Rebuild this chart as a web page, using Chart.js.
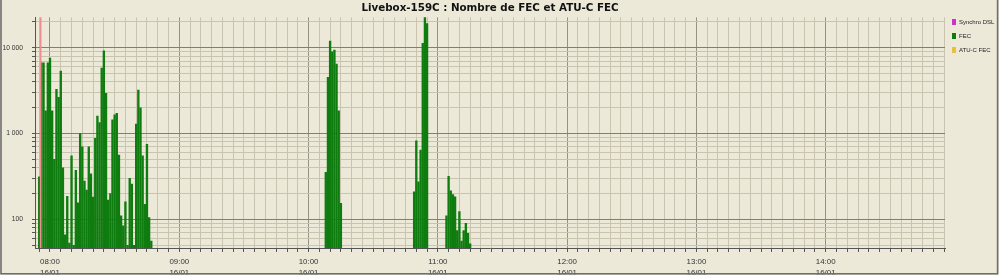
<!DOCTYPE html>
<html>
<head>
<meta charset="utf-8">
<title>Livebox-159C : Nombre de FEC et ATU-C FEC</title>
<script src="https://cdn.jsdelivr.net/npm/chart.js@4.4.1/dist/chart.umd.min.js"></script>
<style>
    html, body { margin: 0; padding: 0; background: #ffffff; }
    #wrap { width: 999px; height: 280px; }
</style>
</head>
<body>
<div id="wrap"><canvas id="fecChart" width="999" height="280"></canvas></div>
<script>
// --- Données ---
const chartTitle = 'Livebox-159C : Nombre de FEC et ATU-C FEC';
const dayLabel = '16/01';
const hourLabels = ['08:00', '09:00', '10:00', '11:00', '12:00', '13:00', '14:00'];

// Synchro DSL (trait vertical)
const syncTimes = ['07:55:40'];

// FEC par minute, une rafale = minutes consécutives à partir de l'heure de départ
const burst1Start = '07:55';
const burst1 = [314, 6680, 6680, 1845, 6680, 7570, 1845, 500, 3270, 2640, 5350, 400, 66, 186, 53,
    550, 50, 372, 156, 1000, 700, 280, 220, 700, 340, 182, 880, 1600, 1340, 5800, 9200, 2940,
    168, 200, 1450, 1650, 1720, 560, 110, 84, 160, 50, 300, 258, 50, 1290, 3220, 2000, 550, 150,
    750, 105, 56];
const burst2Start = '10:08';
const burst2 = [353, 4520, 12000, 8980, 9400, 6460, 1845, 154];
const burst3Start = '10:49';
const burst3 = [210, 824, 274, 642, 11250, 22600, 19200];
const burst4Start = '11:04';
const burst4 = [110, 317, 215, 194, 183, 74, 123, 56, 74, 90, 69, 52];

// ATU-C FEC : aucune valeur visible
const atucFec = [];

// Axe Y (logarithmique)
const yMin = 46.4;
const yMax = 22630;
const yLabelValues = [100, 1000, 10000];
const yGridValues = [50, 60, 70, 80, 90, 100, 200, 300, 400, 500, 600, 700, 800, 900,
    1000, 2000, 3000, 4000, 5000, 6000, 7000, 8000, 9000, 10000, 20000];

// Axe X (minutes depuis minuit)
const xMin = 473.04;
const xMax = 895.37;

// --- Fonctions ---
function toMinutes(str) {
    const parts = str.split(':').map(Number);
    return parts[0] * 60 + parts[1] + (parts[2] || 0) / 60;
}

function burstPoints(start, values) {
    const t0 = toMinutes(start);
    return values.map((v, i) => ({ x: t0 + i, y: v }));
}

function formatThousands(v) {
    return String(v).replace(/\B(?=(\d{3})+(?!\d))/g, ' ');
}

const fecPoints = [].concat(
    burstPoints(burst1Start, burst1),
    burstPoints(burst2Start, burst2),
    burstPoints(burst3Start, burst3),
    burstPoints(burst4Start, burst4)
);
const syncPoints = syncTimes.map(t => ({ x: toMinutes(t), y: yMax }));

const hourMinutes = hourLabels.map(toMinutes);
const xGridValues = [];
for (let m = 475; m <= xMax; m += 5) xGridValues.push(m);

const BG = '#ece9d8';

// fond, cadre et légende
const framePlugin = {
    id: 'frame',
    beforeDraw(chart) {
        const c = chart.ctx;
        c.save();
        c.fillStyle = BG;
        c.fillRect(0, 0, chart.width, chart.height);
        c.restore();
    },
    afterDraw(chart) {
        const c = chart.ctx;
        c.save();
        // légende
        const rows = [22, 36, 50];
        chart.data.datasets.forEach((ds, i) => {
            c.fillStyle = ds.legendColor || ds.backgroundColor;
            c.fillRect(952, rows[i] - 3, 4, 6);
            c.fillStyle = '#222';
            c.font = '6px "Liberation Sans"';
            c.textBaseline = 'middle';
            c.fillText(ds.label, 959, rows[i]);
        });
        // bas blanc + cadre
        c.fillStyle = '#ffffff';
        c.fillRect(0, 274.5, chart.width, chart.height - 274.5);
        c.strokeStyle = '#6e6e6e';
        c.lineWidth = 1.6;
        c.strokeRect(1, -2, 996.6, 275.8);
        c.restore();
    }
};

const ctx = document.getElementById('fecChart').getContext('2d');

new Chart(ctx, {
    type: 'bar',
    data: {
        datasets: [
            {
                label: 'Synchro DSL',
                data: syncPoints,
                backgroundColor: '#ee8e8e',
                legendColor: '#cc33cc',
                barThickness: 1,
                grouped: false
            },
            {
                label: 'FEC',
                data: fecPoints,
                backgroundColor: '#0f7c0f',
                barThickness: 1.7,
                grouped: false
            },
            {
                label: 'ATU-C FEC',
                data: atucFec,
                backgroundColor: '#e8c040',
                barThickness: 1.7,
                grouped: false
            }
        ]
    },
    options: {
        responsive: false,
        animation: false,
        events: [],
        layout: { padding: { top: 0, right: 54, bottom: 0, left: 0 } },
        plugins: {
            legend: { display: false },
            tooltip: { enabled: false },
            title: {
                display: true,
                text: chartTitle,
                fullSize: false,
                color: '#111',
                font: { family: 'DejaVu Sans', weight: 'bold', size: 10.3, lineHeight: 1.2 },
                padding: { top: 2.3, bottom: 2.7 }
            }
        },
        scales: {
            x: {
                type: 'linear',
                min: xMin,
                max: xMax,
                offset: false,
                afterFit: scale => { scale.height = 32; },
                afterBuildTicks: scale => { scale.ticks = xGridValues.map(v => ({ value: v })); },
                ticks: {
                    autoSkip: false,
                    maxRotation: 0,
                    minRotation: 0,
                    padding: 5,
                    color: '#333',
                    font: { family: 'Liberation Sans', size: 7.9, lineHeight: 1.3 },
                    callback: value => {
                        const i = hourMinutes.indexOf(value);
                        return i >= 0 ? [hourLabels[i], dayLabel] : '';
                    }
                },
                grid: {
                    offset: false,
                    drawTicks: true,
                    tickLength: 4,
                    tickColor: '#555',
                    color: c => (c.tick && c.tick.value % 60 === 0) ? '#959285' : '#c8c4b0',
                    lineWidth: 1
                },
                border: { display: true, color: '#555', width: 1 }
            },
            y: {
                type: 'logarithmic',
                min: yMin,
                max: yMax,
                afterFit: scale => { scale.width = 35; },
                afterBuildTicks: scale => { scale.ticks = yGridValues.map(v => ({ value: v })); },
                ticks: {
                    autoSkip: false,
                    padding: 9,
                    color: '#333',
                    font: { family: 'Liberation Sans', size: 6.7 },
                    callback: value => yLabelValues.includes(value) ? formatThousands(value) : ''
                },
                grid: {
                    drawTicks: true,
                    tickLength: 3,
                    tickColor: '#555',
                    color: c => (c.tick && yLabelValues.includes(c.tick.value)) ? '#807e76' : '#c8c4b0',
                    lineWidth: 1
                },
                border: { display: true, color: '#555', width: 1 }
            }
        }
    },
    plugins: [framePlugin]
});
</script>
</body>
</html>
